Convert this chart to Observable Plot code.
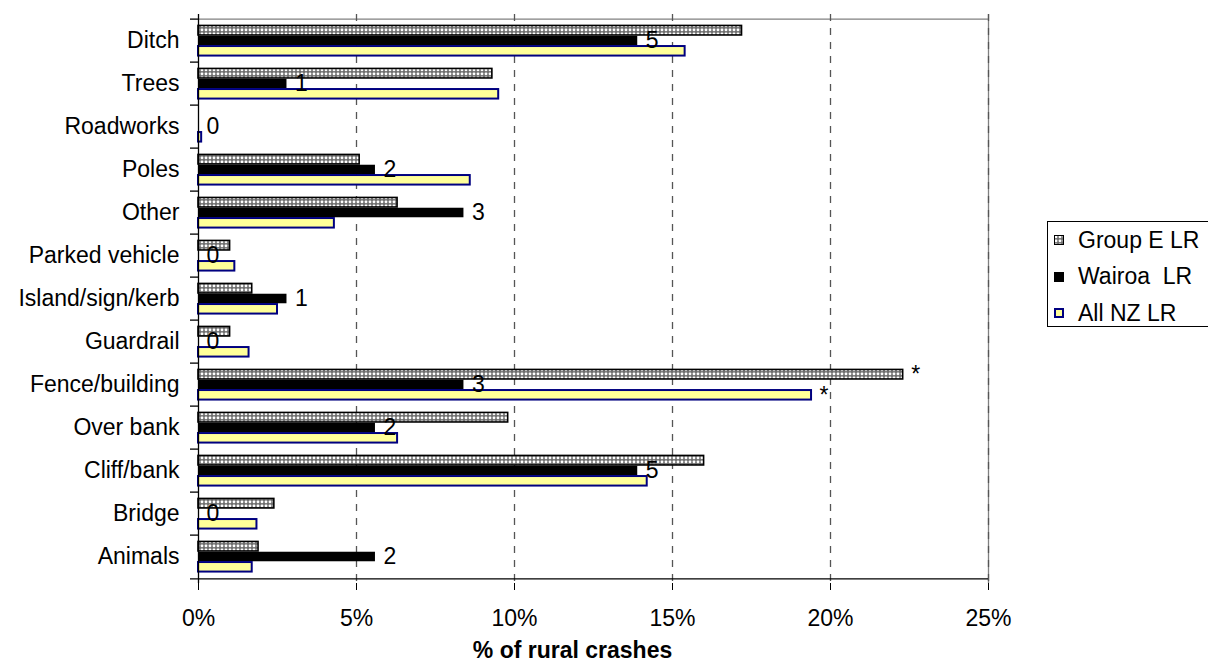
<!DOCTYPE html>
<html><head><meta charset="utf-8">
<script src="https://cdn.jsdelivr.net/npm/d3@7"></script>
<script src="https://cdn.jsdelivr.net/npm/@observablehq/plot@0.6"></script>
<style>
body{margin:0;background:#fff;overflow:hidden;font-family:"Liberation Sans",Arial,sans-serif;}
#wrap{position:relative;width:1208px;height:670px;overflow:hidden;}
#legend{position:absolute;left:1047px;top:221px;width:200px;height:104px;border:1px solid #000;background:#fff;font-size:23px;color:#000;}
#legend .row{height:36.5px;display:flex;align-items:center;white-space:pre;}
#legend .row svg{margin-left:6px;margin-right:14px;flex:none;}
</style></head><body>
<svg width="0" height="0" style="position:absolute"><defs>
<pattern id="groupE" width="4" height="4" patternUnits="userSpaceOnUse">
<rect width="4" height="4" fill="#6e6e6e"/><rect x="0.6" y="0.6" width="2.8" height="2.6" rx="1.1" fill="#fff"/>
</pattern></defs></svg>
<div id="wrap"></div>
<script>
const categories = ["Ditch","Trees","Roadworks","Poles","Other","Parked vehicle","Island/sign/kerb","Guardrail","Fence/building","Over bank","Cliff/bank","Bridge","Animals"];
const groupE = [17.2, 9.3, 0, 5.1, 6.3, 1.0, 1.7, 1.0, 22.3, 9.8, 16.0, 2.4, 1.9];
const wairoa = [13.9, 2.8, 0, 5.6, 8.4, 0, 2.8, 0, 8.4, 5.6, 13.9, 0, 5.6];
const allNZ = [15.4, 9.5, 0.1, 8.6, 4.3, 1.15, 2.5, 1.6, 19.4, 6.3, 14.2, 1.85, 1.7];
const wairoaCounts = [5, 1, 0, 2, 3, 0, 1, 0, 3, 2, 5, 0, 2];
const flagged = ["Fence/building"];
const seriesNames = ["Group E LR", "Wairoa  LR", "All NZ LR"];
const xTicks = [0, 5, 10, 15, 20, 25];
const xTitle = "% of rural crashes";

const rows = categories.map((c, i) => ({category: c, groupE: groupE[i], wairoa: wairoa[i], allNZ: allNZ[i], count: wairoaCounts[i]}));

const W = 1208, H = 670, mt = 14, mb = 87, ml = 198, mr = 220;
const band = (H - mt - mb) / categories.length;
const rowH = 10.3;
const pad = (band - 3 * rowH) / 2;

const chart = Plot.plot({
  width: W, height: H,
  marginTop: mt, marginBottom: mb, marginLeft: ml, marginRight: mr,
  style: {fontFamily: "'Liberation Sans', Arial, sans-serif", fontSize: "23px", background: "white", color: "black"},
  x: {domain: [0, 25], label: null},
  y: {domain: categories, padding: 0, label: null},
  marks: [
    Plot.ruleY([categories[0]], {x1: 0, x2: 25, dy: -band / 2, stroke: "#808080", strokeWidth: 1.3}),
    Plot.ruleX([25], {stroke: "#808080", strokeWidth: 1.3}),
    Plot.ruleX(xTicks.slice(1), {stroke: "#555", strokeDasharray: "7,7", strokeWidth: 1.3}),
    Plot.barX(rows, {y: "category", x: "groupE", fill: "url(#groupE)", stroke: "black", strokeWidth: 1.6,
      insetTop: pad, insetBottom: band - pad - rowH}),
    Plot.barX(rows, {y: "category", x: "wairoa", fill: "black",
      insetTop: pad + rowH, insetBottom: band - pad - 2 * rowH}),
    Plot.barX(rows, {y: "category", x: "allNZ", fill: "#ffff99", stroke: "#000080", strokeWidth: 2,
      insetTop: pad + 2 * rowH, insetBottom: pad}),
    Plot.ruleX([0], {stroke: "black", strokeWidth: 1.3}),
    Plot.ruleY(categories, {x1: 0, x2: 0, insetLeft: -8, dy: -band / 2, stroke: "black", strokeWidth: 1.3}),
    Plot.ruleY([categories[categories.length - 1]], {x1: 0, x2: 25, insetLeft: -8, dy: band / 2, stroke: "black", strokeWidth: 1.3}),
    Plot.axisX(xTicks, {tickSize: 7, tickPadding: 19, tickFormat: d => d + "%", label: null}),
    Plot.axisY({tickSize: 0, tickPadding: 19, label: null}),
    Plot.text(rows, {x: "wairoa", y: "category", text: d => String(d.count), dx: 8, textAnchor: "start", fill: "black"}),
    Plot.text(rows.filter(d => flagged.includes(d.category)), {x: "groupE", y: "category", text: () => "*", dx: 8, dy: -rowH, textAnchor: "start", fill: "black"}),
    Plot.text(rows.filter(d => flagged.includes(d.category)), {x: "allNZ", y: "category", text: () => "*", dx: 8, dy: rowH, textAnchor: "start", fill: "black"}),
    Plot.text([xTitle], {frameAnchor: "bottom", text: d => d, dy: 74, dx: -21, fontWeight: "bold", fill: "black"})
  ]
});

const wrap = document.getElementById("wrap");
wrap.appendChild(chart);

const legend = document.createElement("div");
legend.id = "legend";
const swatches = [
  {fill: "url(#groupE)", stroke: "black", sw: 1},
  {fill: "black", stroke: "black", sw: 1},
  {fill: "#ffff99", stroke: "#000080", sw: 2}
];
seriesNames.forEach((name, i) => {
  const row = document.createElement("div");
  row.className = "row";
  const s = swatches[i];
  row.innerHTML = `<svg width="10" height="10"><rect x="${s.sw/2}" y="${s.sw/2}" width="${10 - s.sw}" height="${10 - s.sw}" fill="${s.fill}" stroke="${s.stroke}" stroke-width="${s.sw}"/></svg><span>${name}</span>`;
  legend.appendChild(row);
});
wrap.appendChild(legend);
</script>
</body></html>
